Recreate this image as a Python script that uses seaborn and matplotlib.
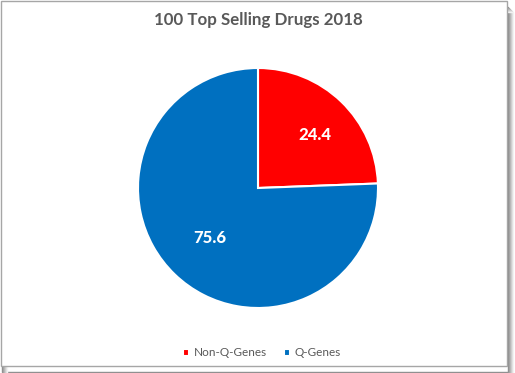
import matplotlib
matplotlib.use("Agg")
import seaborn as sns
import matplotlib.pyplot as plt
from matplotlib.patches import Rectangle

# chart data
categories = ["Non-Q-Genes", "Q-Genes"]
shares = [24.4, 75.6]
slice_colors = ["#FF0000", "#0070C0"]
title = "100 Top Selling Drugs 2018"

sns.set_style("white")
plt.rcParams['font.family'] = ['Lato', 'DejaVu Sans']

W, H = 515, 373
fig = plt.figure(figsize=(W / 100, H / 100), dpi=100)

# frame with a soft shadow on the right and bottom
for i in range(6):
    fig.patches.append(Rectangle(((2 + i) / W, (1 - i) / H), (W - 9) / W, (H - 8) / H,
                                 transform=fig.transFigure, facecolor="none",
                                 edgecolor=str(0.55 + i * 0.08), linewidth=1, zorder=-3))
fig.patches.append(Rectangle((1 / W, 7 / H), (W - 9) / W, (H - 8) / H,
                             transform=fig.transFigure, facecolor="white",
                             edgecolor="#A6A6A6", linewidth=1, zorder=-2))

ax = fig.add_axes([(258 - 150) / W, (185 - 150) / H, 300 / W, 300 / H])
ax.set_zorder(2)
ax.patch.set_alpha(0)
wedges, texts = ax.pie(shares, colors=slice_colors, startangle=90, counterclock=False,
                       wedgeprops=dict(edgecolor="white", linewidth=1.5))
ax.set_xlim(-1.25, 1.25)
ax.set_ylim(-1.25, 1.25)
ax.set_aspect("equal")
ax.axis("off")

# value labels
label_pos = [(0.47, 0.44), (-0.40, -0.42)]
for val, (x, y) in zip(shares, label_pos):
    ax.text(x, y, f"{val:.1f}", color="white", fontsize=12, fontweight="black",
            ha="center", va="center")

fig.text(258 / W, 1 - 20 / H, title, ha="center", va="center", fontsize=12.2,
         fontweight="bold", color="#595959")

leg = fig.legend(wedges, categories, loc="center", bbox_to_anchor=(262 / W, 1 - 353 / H),
                 ncol=2, frameon=False, fontsize=8.5, handlelength=0.55, handleheight=0.55,
                 handletextpad=0.4, columnspacing=1.4, labelcolor="#595959")
leg.set_zorder(3)

fig.savefig("out.png", dpi=100)
